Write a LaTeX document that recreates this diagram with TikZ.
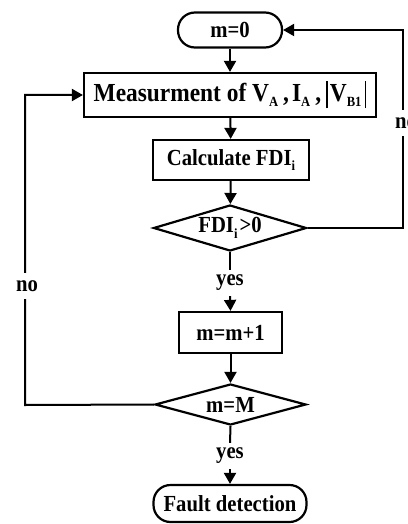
\documentclass[tikz,border=0pt]{standalone}
\usepackage{fontspec}
\setmainfont{Liberation Serif}[FakeStretch=0.9]
\usetikzlibrary{shapes.geometric,arrows.meta}
\newcommand{\lowsub}[1]{\raisebox{-5.5pt}{\fontsize{14}{14}\selectfont #1}}
\newcommand{\tallbar}{\rule[-7pt]{1.8pt}{27pt}}
\begin{document}
\begin{tikzpicture}[x=1pt,y=-1pt,
  font=\bfseries\fontsize{23}{26}\selectfont,
  box/.style={draw,line width=2.2pt,rectangle,inner sep=0pt},
  term/.style={draw,line width=2.2pt,rectangle,rounded corners=17pt,inner sep=0pt},
  dia/.style={draw,line width=2.2pt,diamond,inner sep=0pt,aspect=3.3},
  conn/.style={line width=2pt},
  arr/.style={line width=2pt,-{Triangle[length=11pt,width=12pt]}},
  lab/.style={fill=white,inner sep=2pt,minimum height=26pt}]
\useasboundingbox (0,0) rectangle (407,524);
\node[term,minimum width=104pt,minimum height=35pt] (m0) at (230,30) {m=0};
\node[box,minimum width=292pt,minimum height=44pt,
  font=\bfseries\fontsize{26}{26}\selectfont] (meas) at (230,95)
  {Measurment of V{\fontsize{15}{15}\selectfont\lowsub{A}}\hspace{5pt},\hspace{3pt}I{\fontsize{15}{15}\selectfont\lowsub{A}}\hspace{5pt},\hspace{5pt}\tallbar\hspace{2pt}V\lowsub{B1}\hspace{3pt}\tallbar};
\node[box,minimum width=156pt,minimum height=40pt] (calc) at (231,160)
  {Calculate FDI\lowsub{i}};
\node[dia,minimum width=153pt,minimum height=46pt] (d1) at (230,228)
  {FDI\lowsub{i}\hspace{2pt}>0};
\node[box,minimum width=103pt,minimum height=41pt] (inc) at (230.5,332.5) {m=m+1};
\node[dia,minimum width=151pt,minimum height=41pt] (d2) at (230.5,404.5) {m=M};
\node[term,minimum width=153pt,minimum height=37pt] (fault) at (230,503.5) {Fault detection};
\node[lab] (yes1) at (230,283) {yes};
\node[lab] (yes2) at (230,456) {yes};
\coordinate (rc) at (403,228);
\coordinate (lc) at (25,405);
\draw[arr] (m0) -- (meas);
\draw[arr] (meas) -- (calc);
\draw[arr] (calc) -- (d1);
\draw[conn] (d1.south) -- (yes1.north);
\draw[arr] (yes1.south) -- (inc.north);
\draw[arr] (inc) -- (d2);
\draw[conn] (d2.south) -- (yes2.north);
\draw[arr] (yes2.south) -- (fault.north);
\draw[arr] (d1.east) -- (rc) |- (m0.east);
\draw[arr] (d2.west) -- (lc) |- (meas.west);
\node[lab] (no1) at (406,123) {no};
\node[lab] (no2) at (27,286) {no};
\end{tikzpicture}
\end{document}
